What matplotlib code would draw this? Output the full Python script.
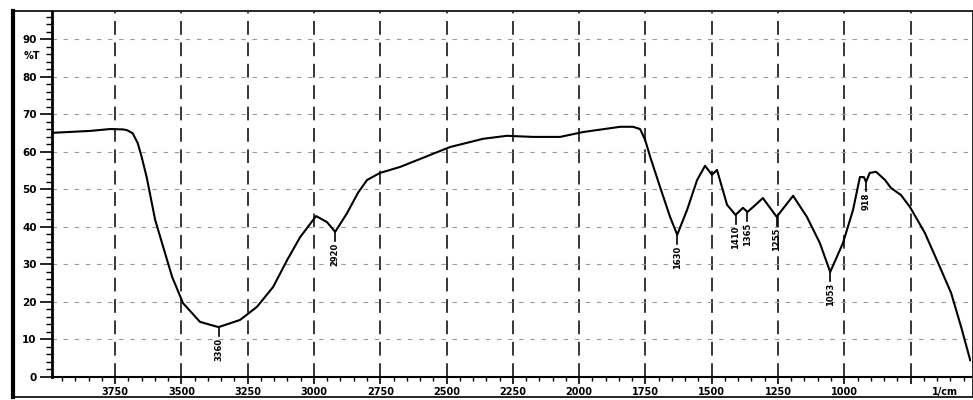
import numpy as np
import matplotlib.pyplot as plt
from matplotlib.patches import Rectangle

# IR transmittance trace (wavenumber in 1/cm, %T)
wavenumber = [3984, 3844, 3769, 3720, 3705, 3684, 3665, 3650, 3631, 3599,
              3573, 3535, 3494, 3430, 3360, 3279, 3215, 3154, 3101, 3052,
              2992, 2951, 2920, 2875, 2834, 2800, 2751, 2675, 2487, 2362,
              2272, 2174, 2072, 1985, 1845, 1797, 1770, 1751, 1732, 1695,
              1657, 1630, 1593, 1555, 1525, 1499, 1480, 1442, 1410, 1382,
              1365, 1344, 1307, 1255, 1193, 1141, 1092, 1053, 1005, 967,
              941, 926, 918, 904, 880, 846, 824, 786, 752, 696,
              646, 597, 559, 525]
transmittance = [65.1, 65.6, 66.1, 66.0, 65.8, 65.0, 62.4, 58.7, 53.3, 41.9,
                 35.7, 26.7, 19.7, 14.7, 13.3, 15.2, 18.7, 24.0, 31.2, 37.3,
                 42.9, 41.3, 38.7, 43.7, 49.1, 52.5, 54.4, 56.0, 61.3, 63.5,
                 64.3, 64.0, 64.0, 65.3, 66.7, 66.7, 66.1, 63.2, 58.7, 50.7,
                 42.7, 37.9, 44.5, 52.5, 56.3, 53.9, 55.2, 45.9, 43.2, 45.1,
                 44.0, 45.3, 47.7, 42.7, 48.3, 42.7, 35.7, 28.0, 35.7, 44.5,
                 53.3, 53.3, 52.0, 54.4, 54.7, 52.5, 50.4, 48.5, 45.3, 38.4,
                 30.4, 22.4, 13.3, 4.5]

# marked absorption bands
peak_wn = [3360, 2920, 1630, 1410, 1365, 1255, 1053, 918]
peak_labels = ['3360', '2920', '1630', '1410', '1365', '1255', '1053', '918']

x_ticks = [3750, 3500, 3250, 3000, 2750, 2500, 2250, 2000, 1750, 1500, 1250, 1000]
y_ticks = [0, 10, 20, 30, 40, 50, 60, 70, 80, 90]

W, H = 973, 400
fig = plt.figure(figsize=(W / 100, H / 100), dpi=100)
ax = fig.add_axes([52 / W, (H - 377) / H, (971 - 52) / W, (377 - 12) / H])

ax.plot(wavenumber, transmittance, color='black', lw=1.5, zorder=3)

for wn, lab in zip(peak_wn, peak_labels):
    t = transmittance[wavenumber.index(wn)]
    ax.plot([wn, wn], [t, t - 2.5], color='black', lw=1.2, zorder=3)
    ax.text(wn, t - 2.8, lab, rotation=90, ha='center', va='top',
            fontsize=6, fontweight='bold', zorder=4)

# dashed chart-paper grid
for xv in x_ticks + [750]:
    ax.axvline(xv, color='black', lw=1.1, ls=(0, (9, 5)), zorder=1)
for yv in y_ticks[1:]:
    ax.axhline(yv, color='#9a9a9a', lw=0.8, ls=(0, (4, 6)), zorder=1)

ax.set_xlim(3988, 522)
ax.set_ylim(0, 97.3)
ax.set_xticks(x_ticks + [750])
ax.set_xticklabels([str(v) for v in x_ticks] + [''], fontsize=7, fontweight='bold')
ax.set_xticks(np.arange(550, 3951, 50), minor=True)
ax.set_yticks(y_ticks)
ax.set_yticklabels([str(v) for v in y_ticks], fontsize=7.5, fontweight='bold')
ax.set_yticks(np.arange(0, 97, 2), minor=True)
ax.tick_params(axis='x', which='major', direction='out', length=5, width=1.2, pad=2)
ax.tick_params(axis='x', which='minor', direction='out', length=3, width=1)
ax.tick_params(axis='y', which='major', direction='out', length=9, width=1.2, pad=2)
ax.tick_params(axis='y', which='minor', direction='out', length=4, width=1)

for side in ['top', 'right']:
    ax.spines[side].set_visible(False)
ax.spines['left'].set_linewidth(2)
ax.spines['bottom'].set_linewidth(1.5)

ax.text(-0.022, 85.5, '%T', transform=ax.get_yaxis_transform(), fontsize=7,
        fontweight='bold', ha='center', va='center')
ax.text(620, -4.0, '1/cm', fontsize=7, fontweight='bold', ha='center', va='center')

# outer border of the printout
fig.add_artist(Rectangle((12 / W, (H - 397) / H), (W - 12) / W, (397 - 11) / H,
                         transform=fig.transFigure, fill=False, ec='black', lw=1.2))
fig.add_artist(plt.Line2D([12.5 / W, 12.5 / W], [(H - 397) / H, (H - 11) / H],
                          transform=fig.transFigure, color='black', lw=3))

fig.savefig('out.png', dpi=100)
